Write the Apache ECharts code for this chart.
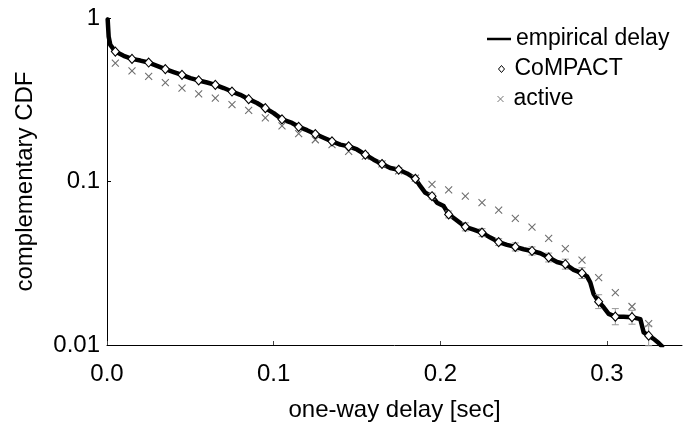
<!DOCTYPE html>
<html>
<head>
<meta charset="utf-8">
<script src="https://cdn.jsdelivr.net/npm/echarts@6/dist/echarts.min.js"></script>
<style>
  html, body { margin: 0; padding: 0; background: #fff; }
  #chart { width: 683px; height: 430px; }
</style>
</head>
<body>
<div id="chart"></div>
<script>
// One-way delay (sec) where the CoMPACT and active estimates are sampled
var sampleDelay = [0.005, 0.015, 0.025, 0.035, 0.045, 0.055, 0.065, 0.075, 0.085, 0.095, 0.105,
  0.115, 0.125, 0.135, 0.145, 0.155, 0.165, 0.175, 0.185, 0.195,
  0.205, 0.215, 0.225, 0.235, 0.245, 0.255, 0.265, 0.275, 0.285, 0.295, 0.305, 0.315, 0.325];

// CoMPACT estimate of the complementary CDF
var compactCCDF = [0.623, 0.562, 0.534, 0.487, 0.449, 0.415, 0.390, 0.355, 0.319, 0.281, 0.240,
  0.216, 0.195, 0.176, 0.164, 0.146, 0.128, 0.118, 0.104, 0.0813,
  0.0629, 0.0528, 0.0487, 0.0426, 0.0398, 0.0376, 0.0343, 0.0312, 0.0275, 0.0184, 0.0149, 0.0148, 0.0114];

// Error range of the CoMPACT estimate (null where no bar is drawn)
var compactLow = [null, null, null, null, null, null, null, null, null, null, null,
  null, null, null, null, null, null, null, null, 0.0780,
  0.0599, 0.0499, 0.0460, 0.0406, 0.0376, 0.0355, 0.0322, 0.0291, 0.0255, 0.0167, 0.0133, 0.0134, 0.0099];
var compactHigh = [null, null, null, null, null, null, null, null, null, null, null,
  null, null, null, null, null, null, null, null, 0.0848,
  0.0660, 0.0559, 0.0515, 0.0447, 0.0421, 0.0398, 0.0365, 0.0335, 0.0297, 0.0203, 0.0167, 0.0163, 0.0131];

// Active probing estimate of the complementary CDF
var activeCCDF = [0.529, 0.475, 0.439, 0.403, 0.373, 0.344, 0.324, 0.295, 0.272, 0.245, 0.219,
  0.196, 0.180, 0.168, 0.153, 0.143, 0.128, 0.116, 0.105, 0.0959,
  0.0888, 0.0813, 0.0742, 0.0668, 0.0595, 0.0526, 0.0449, 0.0389, 0.0330, 0.0258, 0.0209, 0.0172, 0.0135];

// Empirical delay distribution (complementary CDF)
var empiricalDelay = [0.0004, 0.001, 0.002, 0.005, 0.010, 0.015, 0.020, 0.025, 0.030, 0.035, 0.040,
  0.045, 0.050, 0.055, 0.060, 0.065, 0.070, 0.075, 0.080, 0.085, 0.090, 0.095, 0.100,
  0.105, 0.111, 0.115, 0.120, 0.125, 0.130, 0.135, 0.140, 0.145, 0.150, 0.155, 0.160,
  0.165, 0.170, 0.175, 0.180, 0.185, 0.188, 0.191, 0.195, 0.198, 0.202, 0.205, 0.209,
  0.215, 0.220, 0.225, 0.230, 0.235, 0.240, 0.245, 0.250, 0.255, 0.260, 0.265, 0.270,
  0.275, 0.280, 0.285, 0.288, 0.290, 0.292, 0.295, 0.298, 0.301, 0.305, 0.310, 0.315,
  0.320, 0.321, 0.322, 0.325, 0.328, 0.331, 0.333];
var empiricalCCDF = [0.98, 0.769, 0.684, 0.623, 0.587, 0.562, 0.549, 0.534, 0.510, 0.487, 0.467,
  0.449, 0.429, 0.415, 0.403, 0.390, 0.373, 0.355, 0.339, 0.319, 0.302, 0.281, 0.262,
  0.240, 0.228, 0.216, 0.206, 0.195, 0.185, 0.176, 0.168, 0.164, 0.157, 0.146, 0.136,
  0.128, 0.121, 0.118, 0.112, 0.104, 0.0936, 0.0853, 0.0813, 0.0742, 0.0707, 0.0631, 0.0587,
  0.0528, 0.0508, 0.0487, 0.0454, 0.0426, 0.0410, 0.0398, 0.0385, 0.0376, 0.0364, 0.0343, 0.0322,
  0.0312, 0.0288, 0.0275, 0.0263, 0.0241, 0.0205, 0.0184, 0.0170, 0.0155, 0.0149, 0.0149, 0.0148,
  0.0144, 0.0131, 0.01195, 0.0114, 0.0109, 0.01028, 0.0098];

// Tick positions
var xTicks = [0.0, 0.1, 0.2, 0.3];
var yTicks = [0.01, 0.1, 1];

var FONT = '"Liberation Sans", Arial, Helvetica, sans-serif';
var TEXT = { color: '#000', fontFamily: FONT, fontSize: 24, lineHeight: 24 };
var LEGEND_TEXT = { color: '#000', fontFamily: FONT, fontSize: 23, lineHeight: 24 };
var CROSS = 'path://M0,0L10,10M10,0L0,10';

function zip(a, b) {
  var out = [];
  for (var i = 0; i < a.length; i++) out.push([a[i], b[i]]);
  return out;
}

var errorData = [];
for (var i = 0; i < sampleDelay.length; i++) {
  if (compactLow[i] != null && compactHigh[i] != null) {
    errorData.push([sampleDelay[i], compactLow[i], compactHigh[i]]);
  }
}

var chart = echarts.init(document.getElementById('chart'), null, { renderer: 'canvas' });

chart.setOption({
  animation: false,
  backgroundColor: '#fff',
  grid: { left: 107, right: 1, top: 18, bottom: 85 },
  legend: [
    {
      left: 487, top: 27, padding: 0, itemWidth: 24, itemHeight: 2.5,
      textStyle: LEGEND_TEXT,
      data: [{ name: 'empirical delay', icon: 'rect',
        itemStyle: { color: '#000', borderWidth: 0 } }],
      selectedMode: false
    },
    {
      left: 498, top: 57, padding: 0, itemWidth: 6, itemHeight: 7,
      textStyle: Object.assign({}, LEGEND_TEXT, { padding: [0, 0, 0, 5] }),
      data: [{ name: 'CoMPACT', icon: 'diamond',
        itemStyle: { color: '#fff', borderColor: '#000', borderWidth: 1, opacity: 1 } }],
      selectedMode: false
    },
    {
      left: 497, top: 87, padding: 0, itemWidth: 6, itemHeight: 6,
      textStyle: Object.assign({}, LEGEND_TEXT, { padding: [0, 0, 0, 5] }),
      data: [{ name: 'active', icon: CROSS,
        itemStyle: { color: 'transparent', borderColor: '#777', borderWidth: 1, opacity: 1 } }],
      selectedMode: false
    }
  ],
  xAxis: {
    type: 'value',
    min: 0,
    max: 0.345,
    interval: 0.1,
    name: 'one-way delay [sec]',
    nameLocation: 'middle',
    nameGap: 53,
    nameTextStyle: TEXT,
    axisLine: { show: true, lineStyle: { color: '#000', width: 1 } },
    axisTick: { show: true, inside: true, length: 4, lineStyle: { color: '#444' } },
    axisLabel: {
      margin: 17,
      showMaxLabel: false,
      color: '#000', fontFamily: FONT, fontSize: 24, lineHeight: 24,
      formatter: function (v) {
        for (var k = 0; k < xTicks.length; k++) {
          if (Math.abs(v - xTicks[k]) < 1e-9) return xTicks[k].toFixed(1);
        }
        return '';
      }
    },
    splitLine: { show: false }
  },
  yAxis: {
    type: 'log',
    logBase: 10,
    min: 0.01,
    max: 1,
    name: 'complementary CDF',
    nameLocation: 'middle',
    nameGap: 70,
    nameTextStyle: TEXT,
    axisLine: { show: true, lineStyle: { color: '#000', width: 1 } },
    axisTick: { show: true, inside: true, length: 4, lineStyle: { color: '#000' } },
    minorTick: { show: false },
    axisLabel: {
      margin: 7,
      color: '#000', fontFamily: FONT, fontSize: 24, lineHeight: 24,
      formatter: function (v) {
        for (var k = 0; k < yTicks.length; k++) {
          if (Math.abs(v - yTicks[k]) / yTicks[k] < 1e-6) return String(yTicks[k]);
        }
        return '';
      }
    },
    splitLine: { show: false }
  },
  series: [
    {
      name: 'empirical delay',
      type: 'line',
      data: zip(empiricalDelay, empiricalCCDF),
      showSymbol: false,
      symbol: 'none',
      smooth: false,
      clip: true,
      lineStyle: { color: '#000', width: 4.5, join: 'round', cap: 'round' },
      itemStyle: { color: '#000' },
      z: 2
    },
    {
      name: 'active',
      type: 'scatter',
      data: zip(sampleDelay, activeCCDF),
      symbol: CROSS,
      symbolSize: 7,
      itemStyle: { color: 'transparent', borderColor: '#6f6f6f', borderWidth: 1.1, opacity: 1 },
      z: 3
    },
    {
      name: 'CoMPACT error',
      type: 'custom',
      data: errorData,
      z: 4,
      renderItem: function (params, api) {
        var x = api.value(0);
        var lo = api.coord([x, api.value(1)]);
        var hi = api.coord([x, api.value(2)]);
        var w = 3.5;
        var style = { stroke: '#999', lineWidth: 1, fill: null };
        return {
          type: 'group',
          children: [
            { type: 'line', shape: { x1: lo[0], y1: lo[1], x2: hi[0], y2: hi[1] }, style: style },
            { type: 'line', shape: { x1: lo[0] - w, y1: lo[1], x2: lo[0] + w, y2: lo[1] }, style: style },
            { type: 'line', shape: { x1: hi[0] - w, y1: hi[1], x2: hi[0] + w, y2: hi[1] }, style: style }
          ]
        };
      }
    },
    {
      name: 'CoMPACT',
      type: 'scatter',
      data: zip(sampleDelay, compactCCDF),
      symbol: 'diamond',
      symbolSize: [8, 9],
      itemStyle: { color: '#fff', borderColor: '#000', borderWidth: 1.1, opacity: 1 },
      z: 5
    }
  ]
});
</script>
</body>
</html>
